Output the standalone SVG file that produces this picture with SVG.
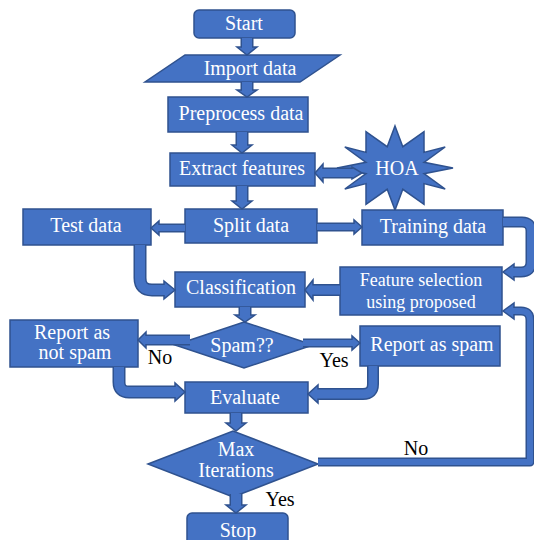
<svg xmlns="http://www.w3.org/2000/svg" width="534" height="540" viewBox="0 0 534 540" font-family="Liberation Serif, Times New Roman, serif">
<style>
.n{fill:#4472C4;stroke:#2F528F;stroke-width:1.5}
.t{font-size:20px;fill:#ffffff;text-anchor:middle}
.s{font-size:18px}
.l{font-size:20px;fill:#000000;text-anchor:middle}
.o{fill:none;stroke:#2F528F;stroke-linecap:butt;stroke-linejoin:round}
.i{fill:none;stroke:#4472C4;stroke-linecap:butt;stroke-linejoin:round}
.h{fill:#4472C4;stroke:#2F528F;stroke-width:1.5;stroke-linejoin:miter}
.o.w10{stroke-width:13}.i.w10{stroke-width:10}
.o.w9{stroke-width:12}.i.w9{stroke-width:9}
.o.w8{stroke-width:11}.i.w8{stroke-width:8}
.o.w6{stroke-width:9}.i.w6{stroke-width:6}
</style>
<rect width="534" height="540" fill="#ffffff"/>
<g id="start"><rect class="n" x="194" y="10" width="101" height="28" rx="5"/><text class="t" x="244" y="30">Start</text></g>
<g id="import"><polygon class="n" points="185,55 340,55 300,82 145,82"/><text class="t" x="250" y="75">Import data</text></g>
<g id="preprocess"><rect class="n" x="168" y="97" width="140" height="35"/><text class="t" x="241" y="120">Preprocess data</text></g>
<g id="extract"><rect class="n" x="170" y="153" width="145" height="33"/><text class="t" x="242" y="175">Extract features</text></g>
<g id="hoa"><polygon class="n" points="395,126 402.8,146.7 424,131.6 424,152.4 445.2,147 424,162.3 453,168 424,173.7 445.2,189 424,183.6 424,204.4 402.8,189.3 395,210 387.2,189.3 366,204.4 366,183.6 344.8,189 366,173.7 337,168 366,162.3 344.8,147 366,152.4 366,131.6 387.2,146.7"/><text class="t" x="397" y="175">HOA</text></g>
<g id="test"><rect class="n" x="23" y="209" width="128" height="36"/><text class="t" x="86" y="232">Test data</text></g>
<g id="split"><rect class="n" x="185" y="209" width="132" height="34"/><text class="t" x="251" y="232">Split data</text></g>
<g id="training"><rect class="n" x="362" y="210" width="141" height="35"/><text class="t" x="433" y="233">Training data</text></g>
<g id="classification"><rect class="n" x="175" y="272" width="130" height="35"/><text class="t" x="241" y="294">Classification</text></g>
<g id="featsel"><rect class="n" x="340" y="267" width="162" height="48"/><text class="t s" x="421" y="286">Feature selection</text><text class="t s" x="421" y="308">using proposed</text></g>
<g id="spam"><polygon class="n" points="175,345 244,322 313,345 244,368"/><text class="t" x="242" y="352">Spam??</text></g>
<g id="notspam"><rect class="n" x="10" y="320" width="128" height="47"/><text class="t" x="72" y="339">Report as</text><text class="t" x="75" y="359">not spam</text></g>
<g id="isspam"><rect class="n" x="360" y="326" width="140" height="40"/><text class="t" x="432" y="351">Report as spam</text></g>
<g id="evaluate"><rect class="n" x="185" y="382" width="123" height="31"/><text class="t" x="245" y="404">Evaluate</text></g>
<g id="maxiter"><polygon class="n" points="148,464 233,431 318,464 233,497"/><text class="t" x="236" y="456">Max</text><text class="t" x="236" y="477">Iterations</text></g>
<g id="stop"><rect class="n" x="187" y="513" width="101" height="35" rx="5"/><text class="t" x="238" y="537">Stop</text></g>
<g id="connectors">
<path class="o w10" d="M247,38V47"/><path class="o w10" d="M247,82V90"/><path class="o w10" d="M242,132V145"/><path class="o w10" d="M242,186V201"/>
<path class="o w8" d="M323,173H352"/><path class="o w6" d="M185,228H159"/><path class="o w6" d="M317,227H354"/>
<path class="o w10" d="M140,245V278Q140,290 152,290H164"/>
<path class="o w8" d="M503,222H522Q531,222 531,231V262Q531,272 521,272H514"/>
<path class="o w9" d="M340,290H313"/><path class="o w10" d="M245,307V315"/>
<path class="o w8" d="M190,340H146"/><path class="o w6" d="M303,343H352"/>
<path class="o w10" d="M119,367V382Q119,392 129,392H175"/>
<path class="o w9" d="M373,366V384Q373,394 363,394H318"/>
<path class="o w10" d="M236,413V423"/><path class="o w10" d="M236,494V505"/>
<path class="o w6" d="M318,462H530V320Q530,311 521,311H514"/>
<polygon class="h" points="237,47 257,47 247,55"/>
<polygon class="h" points="237,90 257,90 247,97"/>
<polygon class="h" points="232,145 252,145 242,153"/>
<polygon class="h" points="232,201 252,201 242,209"/>
<polygon class="h" points="323,164 323,182 315,173"/>
<polygon class="h" points="352,167 352,179 362,173"/>
<polygon class="h" points="159,221 159,235 151,228"/>
<polygon class="h" points="354,220 354,234 362,227"/>
<polygon class="h" points="164,281 164,299 175,290"/>
<polygon class="h" points="514,264 514,280 503,272"/>
<polygon class="h" points="313,280 313,300 305,290"/>
<polygon class="h" points="235,315 255,315 245,322"/>
<polygon class="h" points="146,332 146,348 138,340"/>
<polygon class="h" points="352,336 352,350 360,343"/>
<polygon class="h" points="175,383 175,401 185,392"/>
<polygon class="h" points="318,385 318,403 308,394"/>
<polygon class="h" points="226,423 246,423 236,431"/>
<polygon class="h" points="226,505 246,505 236,513"/>
<polygon class="h" points="514,303 514,319 503,311"/>
<path class="i w10" d="M247,38V48"/><path class="i w10" d="M247,82V91"/><path class="i w10" d="M242,132V146"/><path class="i w10" d="M242,186V202"/>
<path class="i w8" d="M322,173H353"/><path class="i w6" d="M185,228H158"/><path class="i w6" d="M317,227H355"/>
<path class="i w10" d="M140,245V278Q140,290 152,290H165"/>
<path class="i w8" d="M503,222H522Q531,222 531,231V262Q531,272 521,272H513"/>
<path class="i w9" d="M340,290H312"/><path class="i w10" d="M245,307V316"/>
<path class="i w8" d="M190,340H145"/><path class="i w6" d="M303,343H353"/>
<path class="i w10" d="M119,367V382Q119,392 129,392H176"/>
<path class="i w9" d="M373,366V384Q373,394 363,394H317"/>
<path class="i w10" d="M236,413V424"/><path class="i w10" d="M236,494V506"/>
<path class="i w6" d="M318,462H530V320Q530,311 521,311H513"/>
</g>
<g id="labels">
<text class="l" x="160" y="364">No</text>
<text class="l" x="334" y="367">Yes</text>
<text class="l" x="416" y="455">No</text>
<text class="l" x="280" y="506">Yes</text>
</g>
</svg>
